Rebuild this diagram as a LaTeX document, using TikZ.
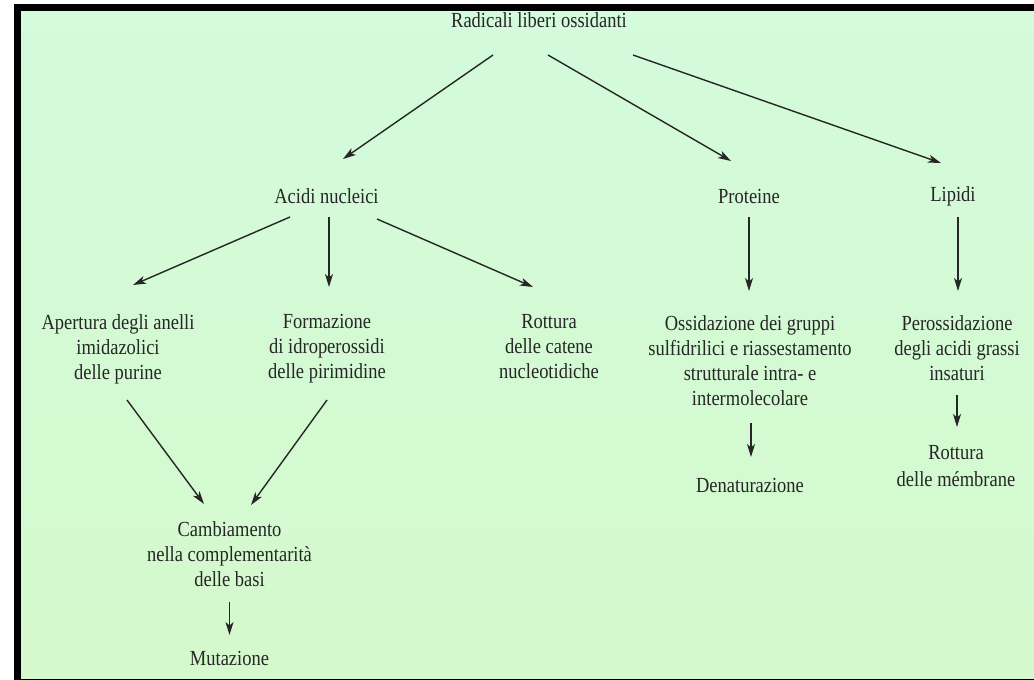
\documentclass[tikz,border=0pt]{standalone}
\usepackage{fontspec}
\setmainfont{Liberation Serif}[FakeStretch=0.86]
\usepackage{xcolor}
\usepackage{tikz}
\usetikzlibrary{arrows.meta,calc}

\definecolor{ink}{HTML}{262626}
\definecolor{mintA}{HTML}{D3FBDC}
\definecolor{mintB}{HTML}{D5F9CC}
\newcommand{\diagfont}{\fontsize{21.5}{25}\selectfont}

\begin{document}
\begin{tikzpicture}[x=1pt,y=-1pt,
                    lbl/.style={align=center,font=\diagfont,text=ink,inner sep=0pt},
                    arr/.style={draw=ink,line width=1.4pt,
                    -{Stealth[length=13pt,width=8pt,inset=3.5pt]}}]
    \useasboundingbox (0,0) rectangle (1034,680);
    \fill[white] (0,0) rectangle (1034,680);
    \fill[black] (14,4) rectangle (1034,680);
    \shade[top color=mintA,bottom color=mintB] (21,11) rectangle (1034,678);

    \node[lbl](rad) at (539,20) {Radicali liberi ossidanti};
    \node[lbl](acidi) at (326.5,196) {Acidi nucleici};
    \node[lbl](prot) at (749,196) {Proteine};
    \node[lbl](lip) at (953,196) {Lipidi};
    \node[lbl](aper) at (118,349) {Apertura degli anelli\\imidazolici\\delle purine};
    \node[lbl](form) at (327,349) {Formazione\\di idroperossidi\\delle pirimidine};
    \node[lbl](rott) at (549,347) {Rottura\\delle catene\\nucleotidiche};
    \node[lbl](ossi) at (750,360.5) {Ossidazione dei gruppi\\sulfidrilici e riassestamento\\strutturale intra- e\\intermolecolare};
    \node[lbl](peross) at (957,348) {Perossidazione\\degli acidi grassi\\insaturi};
    \node[lbl](denat) at (750,485) {Denaturazione};
    \node[lbl](membr) at (956,466) {Rottura\\[2pt]delle mémbrane};
    \node[lbl](camb) at (229.5,554) {Cambiamento\\nella complementarità\\delle basi};
    \node[lbl](mut) at (229.5,658) {Mutazione};

    \draw[arr] ($(rad)+(-46,35)$) -- ($(acidi)+(16.5,-37)$);
    \draw[arr] ($(rad)+(9,35)$) -- ($(prot)+(-18,-35)$);
    \draw[arr] ($(rad)+(94,35)$) -- ($(lip)+(-12,-33)$);
    \draw[arr] ($(acidi)+(-36.5,21)$) -- ($(aper)+(15,-64)$);
    \draw[arr] ($(acidi)+(2.5,21)$) -- ($(form)+(2,-62)$);
    \draw[arr] ($(acidi)+(50.5,23)$) -- ($(rott)+(-16,-60)$);
    \draw[arr] ($(prot)+(0,21)$) -- ($(ossi)+(-1,-69.5)$);
    \draw[arr] ($(lip)+(5,21)$) -- ($(peross)+(1,-57)$);
    \draw[arr] ($(aper)+(9,51)$) -- ($(camb)+(-25.5,-50)$);
    \draw[arr] ($(form)+(0,51)$) -- ($(camb)+(21.5,-49)$);
    \draw[arr] ($(camb)+(0,48)$) -- ($(mut)+(0,-23)$);
    \draw[arr] ($(ossi)+(1,62.5)$) -- ($(denat)+(1,-28)$);
    \draw[arr] ($(peross)+(0,47)$) -- ($(membr)+(1,-39)$);
\end{tikzpicture}
\end{document}
